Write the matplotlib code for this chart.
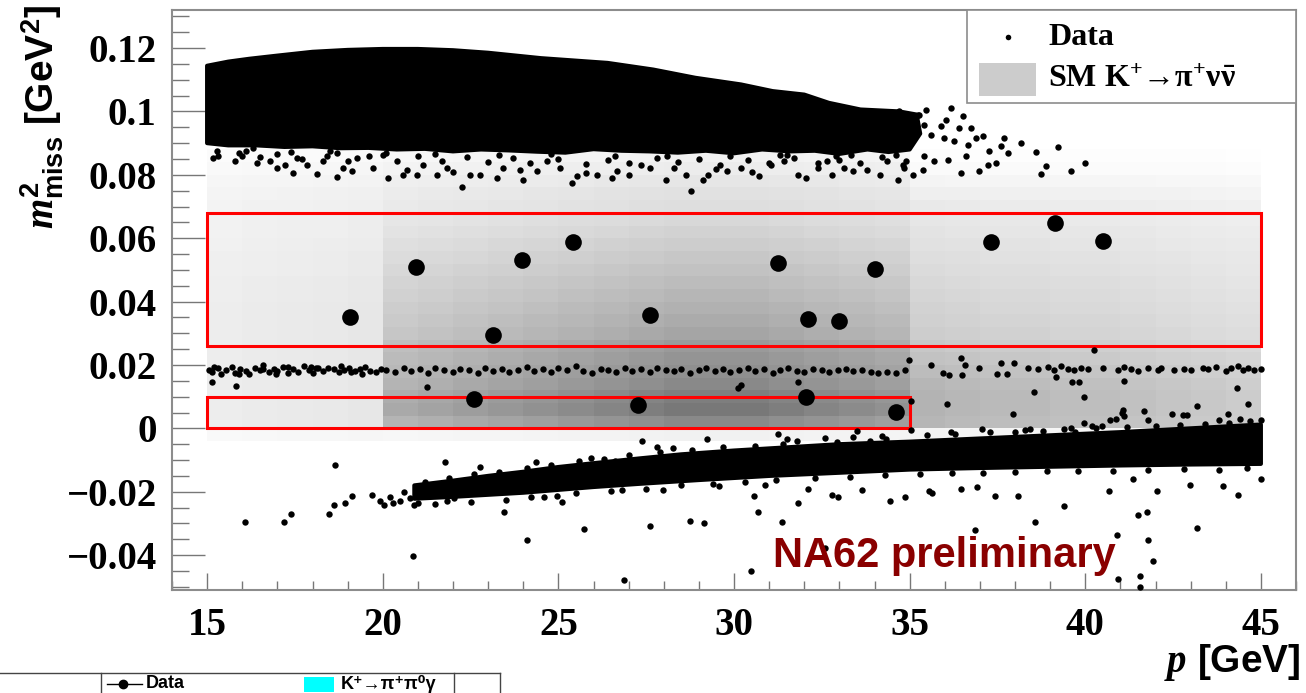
#!/usr/bin/env python
# -*- coding: utf-8 -*-
'''
NA62 - missing mass squared versus pi+ momentum: data, SM expectation
and the two signal regions
'''
import matplotlib
matplotlib.use('Agg')
import matplotlib.pyplot as plt
from matplotlib.patches import Rectangle
from matplotlib.lines import Line2D
from matplotlib.font_manager import FontProperties
import numpy as np

plt.rcParams['mathtext.fontset'] = 'custom'
plt.rcParams['mathtext.rm'] = 'Liberation Serif:bold'
plt.rcParams['mathtext.it'] = 'Liberation Serif:italic:bold'
plt.rcParams['mathtext.bf'] = 'Liberation Serif:bold'
plt.rcParams['mathtext.sf'] = 'Liberation Sans:bold'

################################################################################
# Data
################################################################################
# candidate events (big dots)
cand_p = [19.07, 20.95, 23.15, 22.61, 23.97, 25.43, 27.28, 27.62, 31.24,
          32.12, 32.04, 32.98, 34.0, 34.6, 37.31, 39.13, 40.5]
cand_m2 = [0.0351, 0.0509, 0.0294, 0.0092, 0.0531, 0.0588, 0.0073, 0.0357,
           0.0521, 0.0344, 0.0098, 0.0338, 0.0502, 0.0051, 0.0588, 0.0648,
           0.0591]

# signal regions: (p_min, p_max, m2_min, m2_max)
signal_regions = [(15, 45, 0.026, 0.068), (15, 35, 0.0, 0.01)]

# outline of the saturated K -> 3pi band (upper)
upper_core = [(15.0, 0.1144), (15.6, 0.1157), (16.2, 0.1166), (17.0, 0.1176),
              (18.0, 0.1188), (19.0, 0.1194), (20.0, 0.1197), (21.0, 0.1197),
              (22.0, 0.1193), (23.0, 0.1185), (24.5, 0.1168), (26.4, 0.1153),
              (27.7, 0.1132), (28.9, 0.1106), (30.2, 0.1085), (31.1, 0.1064),
              (32.0, 0.1053), (32.7, 0.1027), (33.6, 0.1006), (34.7, 0.1000),
              (35.2, 0.0990), (35.3, 0.0930),
              (35.0, 0.0880), (34.4, 0.0872), (33.8, 0.0880), (33.0, 0.0866),
              (32.3, 0.0876), (31.6, 0.0874), (30.8, 0.0880), (30.0, 0.0868),
              (29.2, 0.0876), (28.4, 0.0870), (27.6, 0.0874), (26.8, 0.0876),
              (26.0, 0.0881), (25.2, 0.0870), (24.4, 0.0873), (23.6, 0.0877),
              (22.8, 0.0880), (22.0, 0.0874), (21.2, 0.0882), (20.4, 0.0880),
              (19.6, 0.0885), (18.8, 0.0884), (18.0, 0.0890), (17.2, 0.0888),
              (16.4, 0.0893), (15.6, 0.0893), (15.0, 0.0900)]

# outline of the saturated K -> mu nu band (lower)
lower_core = [(20.9, -0.0180), (22.0, -0.0165), (23.0, -0.0150), (24.0, -0.0137),
              (25.0, -0.0122), (26.0, -0.0110), (27.3, -0.0095), (28.5, -0.0082),
              (30.0, -0.0070), (31.5, -0.0060), (33.0, -0.0050), (35.0, -0.0042),
              (37.0, -0.0032), (39.0, -0.0022), (41.0, -0.0012), (43.0, 0.0000),
              (45.0, 0.0012),
              (45.0, -0.0112), (43.0, -0.0114), (41.0, -0.0117), (39.0, -0.0121),
              (37.0, -0.0125), (35.0, -0.0130), (33.0, -0.0140), (31.0, -0.0150),
              (29.0, -0.0163), (27.3, -0.0175), (26.0, -0.0185), (24.0, -0.0203),
              (22.0, -0.0216), (20.9, -0.0222)]

# single data events below / right of the upper band
upper_fringe = [
    (15.17, 0.0916), (15.46, 0.0926), (15.28, 0.0875), (15.17, 0.0853), (15.80, 0.0844),
    (16.00, 0.0860), (16.31, 0.0885), (16.42, 0.0837), (16.79, 0.0916), (16.79, 0.0844),
    (16.99, 0.0822), (17.22, 0.0831), (17.45, 0.0806), (17.56, 0.0853), (17.85, 0.0831),
    (18.13, 0.0803), (18.30, 0.0844), (18.50, 0.0875), (18.70, 0.0793), (18.87, 0.0822),
    (19.13, 0.0812), (19.27, 0.0853), (19.73, 0.0822), (20.01, 0.0863), (20.16, 0.0790),
    (20.58, 0.0800), (20.98, 0.0800), (21.15, 0.0831), (21.55, 0.0800), (21.84, 0.0822),
    (22.26, 0.0762), (22.49, 0.0800), (22.78, 0.0800), (23.26, 0.0790), (23.43, 0.0822),
    (24.00, 0.0784), (24.40, 0.0812), (24.69, 0.0844), (25.06, 0.0822), (25.40, 0.0774),
    (25.54, 0.0796), (26.11, 0.0800), (26.54, 0.0790), (26.68, 0.0812), (27.34, 0.0831),
    (27.62, 0.0822), (28.05, 0.0784), (28.28, 0.0822), (28.62, 0.0800), (28.79, 0.0749),
    (29.13, 0.0784), (29.25, 0.0800), (29.81, 0.0812), (30.19, 0.0822), (30.70, 0.0796),
    (31.04, 0.0831), (31.41, 0.0844), (31.81, 0.0800), (32.04, 0.0790), (32.38, 0.0822),
    (32.66, 0.0844), (33.12, 0.0822), (33.40, 0.0812), (34.17, 0.0800), (34.66, 0.0784),
    (34.83, 0.0822), (35.11, 0.0800), (33.03, 0.0970), (33.52, 0.0989), (33.97, 0.0948),
    (34.69, 0.1002), (35.23, 0.0989), (34.17, 0.0980), (34.94, 0.0948), (33.80, 0.0894),
    (34.46, 0.0894), (32.75, 0.0907), (33.32, 0.0863), (34.37, 0.0844), (32.09, 0.0885),
    (31.52, 0.0863), (34.94, 0.0980), (35.26, 0.0989), (35.40, 0.0957), (34.83, 0.0948),
    (35.03, 0.0916), (35.60, 0.0926), (35.97, 0.0916), (36.25, 0.0907), (36.65, 0.0894),
    (36.74, 0.0948), (36.88, 0.0916), (37.25, 0.0875), (37.59, 0.0891), (37.79, 0.0869),
    (38.59, 0.0872), (39.22, 0.0888), (38.87, 0.0828), (38.73, 0.0803), (39.59, 0.0812),
    (39.99, 0.0837), (37.22, 0.0831), (37.45, 0.0837), (36.97, 0.0812), (36.45, 0.0806),
    (35.68, 0.0844), (36.08, 0.0847), (36.60, 0.0860), (35.37, 0.0815), (34.80, 0.0831),
    (35.46, 0.1005), (36.03, 0.0973), (36.40, 0.0948), (37.08, 0.0923), (36.51, 0.0986),
    (35.88, 0.0954), (36.17, 0.1011), (37.68, 0.0916), (38.16, 0.0900),
    (15.30, 0.0860), (15.90, 0.0868), (16.50, 0.0855), (17.00, 0.0865), (17.70, 0.0850),
    (18.40, 0.0860), (19.00, 0.0845), (19.60, 0.0858), (20.40, 0.0842), (21.00, 0.0858),
    (21.70, 0.0845), (22.40, 0.0855), (23.00, 0.0840), (23.70, 0.0852), (24.20, 0.0838),
    (25.00, 0.0850), (25.80, 0.0835), (26.40, 0.0848), (27.00, 0.0838), (27.80, 0.0852),
    (28.40, 0.0840), (29.00, 0.0850), (29.60, 0.0832), (30.40, 0.0848), (31.00, 0.0838),
    (31.70, 0.0852), (32.40, 0.0836), (33.00, 0.0848), (33.60, 0.0838), (34.20, 0.0855),
    (34.90, 0.0845), (35.40, 0.0860), (20.70, 0.0815), (22.00, 0.0810), (23.90, 0.0815),
    (25.80, 0.0805), (27.00, 0.0800), (29.50, 0.0818), (30.50, 0.0808), (32.80, 0.0800),
    (33.80, 0.0815), (16.10, 0.0875), (17.40, 0.0872), (18.70, 0.0868), (20.10, 0.0870),
    (21.50, 0.0866), (23.30, 0.0862), (24.80, 0.0866), (26.60, 0.0860), (28.10, 0.0858),
    (29.90, 0.0860), (31.30, 0.0862), (32.90, 0.0860), (34.60, 0.0862)]

# K -> pi pi0 band
pi0_band = [
    (15.05, 0.0185), (15.15, 0.0178), (15.30, 0.0190), (15.40, 0.0172), (15.55, 0.0183),
    (15.70, 0.0195), (15.80, 0.0176), (15.95, 0.0188), (16.10, 0.0180), (16.20, 0.0170),
    (16.35, 0.0192), (16.50, 0.0184), (16.60, 0.0199), (16.75, 0.0177), (16.90, 0.0187),
    (17.00, 0.0181), (17.15, 0.0193), (17.30, 0.0174), (17.45, 0.0186), (17.60, 0.0179),
    (17.75, 0.0196), (17.90, 0.0183), (18.00, 0.0175), (18.15, 0.0189), (18.30, 0.0181),
    (18.45, 0.0192), (18.60, 0.0186), (18.75, 0.0178), (18.90, 0.0184), (19.05, 0.0190),
    (19.20, 0.0180), (19.35, 0.0187), (19.50, 0.0194), (19.65, 0.0182), (19.80, 0.0177),
    (19.95, 0.0188), (15.20, 0.0195), (15.90, 0.0170), (16.60, 0.0186), (17.30, 0.0195),
    (18.10, 0.0190), (18.80, 0.0196), (19.40, 0.0172), (16.95, 0.0172), (19.10, 0.0178),
    (17.95, 0.0195),
    (20.10, 0.0184), (20.35, 0.0178), (20.60, 0.0190), (20.80, 0.0181), (21.05, 0.0186),
    (21.30, 0.0175), (21.50, 0.0192), (21.75, 0.0183), (22.00, 0.0179), (22.20, 0.0188),
    (22.45, 0.0184), (22.70, 0.0176), (22.90, 0.0191), (23.15, 0.0182), (23.40, 0.0187),
    (23.60, 0.0178), (23.85, 0.0185), (24.10, 0.0193), (24.30, 0.0180), (24.55, 0.0186),
    (24.80, 0.0177), (25.00, 0.0189), (25.25, 0.0183), (25.50, 0.0196), (25.70, 0.0181),
    (25.95, 0.0175), (26.20, 0.0187), (26.40, 0.0184), (26.65, 0.0179), (26.90, 0.0190),
    (27.10, 0.0182), (27.35, 0.0186), (27.60, 0.0177), (27.80, 0.0192), (28.05, 0.0184),
    (28.30, 0.0180), (28.50, 0.0188), (28.75, 0.0176), (29.00, 0.0185), (29.20, 0.0191),
    (29.45, 0.0181), (29.70, 0.0187), (29.90, 0.0178), (30.15, 0.0184), (30.40, 0.0189),
    (30.60, 0.0180), (30.85, 0.0186), (31.10, 0.0175), (31.30, 0.0183), (31.55, 0.0190),
    (31.80, 0.0182), (32.00, 0.0179), (32.25, 0.0186), (32.50, 0.0184), (32.70, 0.0177),
    (32.95, 0.0183), (33.20, 0.0188), (33.40, 0.0180), (33.65, 0.0185), (33.90, 0.0178),
    (34.10, 0.0174), (34.35, 0.0179), (34.60, 0.0176), (34.88, 0.0183), (34.97, 0.0215),
    (35.60, 0.0199), (35.94, 0.0174), (36.12, 0.0167), (36.45, 0.0221), (36.57, 0.0199),
    (36.97, 0.0190), (37.48, 0.0171), (37.59, 0.0205), (37.76, 0.0171), (37.96, 0.0205),
    (38.36, 0.0190), (38.65, 0.0186), (38.93, 0.0193), (39.10, 0.0184), (39.30, 0.0196),
    (39.50, 0.0188), (39.67, 0.0183), (39.87, 0.0192), (40.07, 0.0186), (40.24, 0.0246),
    (40.50, 0.0190), (40.93, 0.0184), (41.10, 0.0193), (41.30, 0.0187), (41.50, 0.0181),
    (41.78, 0.0190), (42.07, 0.0185), (42.15, 0.0192), (42.52, 0.0183), (42.80, 0.0188),
    (43.00, 0.0184), (43.35, 0.0190), (43.49, 0.0186), (43.72, 0.0193), (44.00, 0.0182),
    (44.15, 0.0189), (44.35, 0.0196), (44.49, 0.0185), (44.63, 0.0191), (44.80, 0.0184),
    (45.00, 0.0187)]

# isolated events between the pi0 band and the lower band
mid_scatter = [
    (15.14, 0.0145), (15.83, 0.0133), (21.27, 0.0130), (30.10, 0.0126), (30.20, 0.0136),
    (31.81, 0.0145), (35.03, 0.0085), (36.05, 0.0076), (36.48, 0.0167), (39.17, 0.0161),
    (39.62, 0.0145), (41.10, 0.0149), (38.53, 0.0114), (44.32, 0.0126), (39.96, 0.0098),
    (44.62, 0.0076), (43.17, 0.0070), (41.67, 0.0054), (41.07, 0.0057), (41.10, 0.0038),
    (42.46, 0.0044), (42.78, 0.0041), (42.90, 0.0041), (44.05, 0.0044), (37.94, 0.0044),
    (40.70, 0.0025), (40.87, 0.0028), (41.04, 0.0047), (40.19, 0.0006), (40.47, 0.0006),
    (39.96, 0.0016), (41.79, 0.0025), (39.83, 0.0145), (37.05, -0.0003), (36.17, -0.0013),
    (38.28, -0.0006), (38.42, -0.0003), (39.39, -0.0003), (39.70, -0.0013), (35.05, -0.0006),
    (33.50, -0.0009), (31.52, -0.0032), (32.93, -0.0044), (33.87, -0.0041), (34.33, -0.0032),
    (31.24, -0.0019)]

# single data events around the lower band
lower_fringe = [
    (16.08, -0.0297), (17.19, -0.0297), (17.39, -0.0269), (18.48, -0.0269), (18.62, -0.0243),
    (18.93, -0.0234), (19.13, -0.0212), (18.65, -0.0117), (19.70, -0.0209), (19.93, -0.0228),
    (20.04, -0.0243), (20.30, -0.0237), (20.50, -0.0228), (20.78, -0.0221), (20.90, -0.0243),
    (20.87, -0.0404), (21.78, -0.0107), (21.84, -0.0228), (22.04, -0.0221), (22.78, -0.0123),
    (23.46, -0.0265), (24.12, -0.0351), (24.37, -0.0107), (24.23, -0.0215), (24.97, -0.0212),
    (25.11, -0.0231), (25.74, -0.0319), (25.94, -0.0092), (26.60, -0.0104), (26.80, -0.0196),
    (26.88, -0.0477), (27.37, -0.0041), (27.62, -0.0307), (27.82, -0.0060), (27.99, -0.0193),
    (28.25, -0.0063), (28.76, -0.0291), (29.16, -0.0300), (29.22, -0.0032), (29.56, -0.0183),
    (30.47, -0.0449), (30.58, -0.0212), (30.67, -0.0265), (30.87, -0.0180), (32.12, -0.0190),
    (31.81, -0.0237), (32.78, -0.0209), (32.95, -0.0215), (33.63, -0.0193), (34.45, -0.0228),
    (34.88, -0.0218), (35.54, -0.0199), (35.63, -0.0205), (36.45, -0.0190), (36.91, -0.0186),
    (37.42, -0.0212), (38.08, -0.0212), (38.56, -0.0297), (39.39, -0.0246), (40.67, -0.0199),
    (41.35, -0.0161), (41.49, -0.0272), (41.75, -0.0265), (42.04, -0.0199), (42.98, -0.0180),
    (43.17, -0.0313), (43.92, -0.0183), (44.34, -0.0209), (45.00, -0.0161), (41.79, -0.0351),
    (41.93, -0.0417), (40.90, -0.0338), (40.93, -0.0474), (41.55, -0.0465), (41.55, -0.0499),
    (36.85, -0.0322), (31.38, -0.0294), (32.58, -0.0379),
    (31.80, -0.0040), (32.60, -0.0030), (33.40, -0.0028), (34.20, -0.0025), (35.50, -0.0022),
    (36.30, -0.0018), (37.30, -0.0012), (38.00, -0.0010), (38.80, -0.0008), (39.60, 0.0000),
    (40.30, 0.0002), (41.20, 0.0004), (42.00, 0.0008), (42.70, 0.0012), (43.40, 0.0014),
    (44.10, 0.0018), (44.70, 0.0022), (45.00, 0.0026), (44.40, 0.0030), (43.80, 0.0025),
    (21.50, -0.0240), (22.50, -0.0232), (23.50, -0.0225), (24.60, -0.0218), (25.50, -0.0205),
    (26.50, -0.0198), (27.50, -0.0190), (28.50, -0.0180), (29.40, -0.0175), (30.30, -0.0168),
    (31.20, -0.0162), (32.30, -0.0158), (33.30, -0.0152), (34.30, -0.0148), (35.30, -0.0145),
    (36.20, -0.0140), (37.10, -0.0142), (38.00, -0.0138), (38.90, -0.0135), (39.80, -0.0133),
    (40.80, -0.0136), (41.80, -0.0130), (42.80, -0.0128), (43.80, -0.0130), (44.60, -0.0125),
    (20.20, -0.0215), (20.60, -0.0200), (21.30, -0.0185), (21.00, -0.0235),
    (21.20, -0.0170), (21.90, -0.0158), (22.60, -0.0145), (23.30, -0.0138), (24.10, -0.0125),
    (24.80, -0.0115), (25.60, -0.0103), (26.30, -0.0096), (27.00, -0.0085), (27.90, -0.0075),
    (28.80, -0.0068), (29.70, -0.0060), (30.60, -0.0055), (31.40, -0.0050)]

# SM K+ -> pi+ nu nubar expectation: 1 GeV x 0.004 GeV^2 cells,
# darkness = column weight x row profile of its momentum range
hist_p_weight = [0.9, 1.0, 1.05, 1.1, 1.2,
                 0.7, 0.75, 0.8, 0.85, 0.9, 0.95, 1.0, 1.05, 1.1, 1.1, 1.1, 1.05, 1.0, 0.95, 0.9,
                 1.1, 1.05, 1.0, 1.0, 0.95, 0.95, 0.9, 0.85, 0.8, 0.75]
prof_15_20 = [0.03, 0.08, 0.08, 0.08, 0.08, 0.08, 0.08, 0.08, 0.08, 0.08, 0.08, 0.075,
              0.075, 0.07, 0.07, 0.065, 0.06, 0.06, 0.055, 0.05, 0.04, 0.03, 0.02]
prof_20_35 = [0.05, 0.42, 0.48, 0.46, 0.42, 0.40, 0.38, 0.36, 0.32, 0.30, 0.28, 0.26,
              0.24, 0.22, 0.20, 0.18, 0.16, 0.14, 0.12, 0.11, 0.09, 0.07, 0.05]
prof_35_45 = [0.04, 0.26, 0.27, 0.27, 0.26, 0.24, 0.22, 0.20, 0.18, 0.17, 0.16, 0.15,
              0.14, 0.13, 0.12, 0.11, 0.10, 0.09, 0.08, 0.06, 0.04, 0.02, 0.01]

x_ticks = [15, 20, 25, 30, 35, 40, 45]
y_ticks = [-0.04, -0.02, 0.0, 0.02, 0.04, 0.06, 0.08, 0.1, 0.12]
y_tick_labels = ['\u22120.04', '\u22120.02', '0', '0.02', '0.04', '0.06', '0.08',
                 '0.1', '0.12']

################################################################################
# Figure and axes
################################################################################
W, H = 1306, 693
fig = plt.figure(figsize=(W / 100, H / 100), dpi=100)
ax = fig.add_axes([172 / W, 103 / H, 1124 / W, 580 / H])
ax.set_xlim(14, 46)
ax.set_ylim(-0.051, 0.132)

# SM expectation histogram
p_edges = np.arange(15, 46, 1.0)
m2_edges = np.linspace(-0.004, 0.088, 24)
darkness = np.zeros((len(m2_edges) - 1, len(p_edges) - 1))
for i, w in enumerate(hist_p_weight):
    centre = p_edges[i] + 0.5
    if centre < 20:
        prof = prof_15_20
    elif centre < 35:
        prof = prof_20_35
    else:
        prof = prof_35_45
    darkness[:, i] = w * np.array(prof)
ax.pcolormesh(p_edges, m2_edges, darkness, cmap='gray_r', vmin=0, vmax=1,
              shading='flat', zorder=1)

# signal regions
for p0, p1, m0, m1 in signal_regions:
    ax.add_patch(Rectangle((p0, m0), p1 - p0, m1 - m0, fill=False,
                           edgecolor='#ff0000', lw=2.2, zorder=2))

# saturated bands
for band in (upper_core, lower_core):
    ax.fill([b[0] for b in band], [b[1] for b in band], facecolor='black',
            edgecolor='black', lw=3, joinstyle='round', zorder=3)

# single events
for pts in (upper_fringe, pi0_band, mid_scatter, lower_fringe):
    ax.plot([q[0] for q in pts], [q[1] for q in pts], 'o', color='black',
            ms=4.6, mew=0, zorder=3)

# candidates
ax.plot(cand_p, cand_m2, 'o', color='black', ms=12, mew=0, zorder=4)

################################################################################
# Axes cosmetics (ROOT look)
################################################################################
tick_font = FontProperties(family='Liberation Serif', weight='bold', size=28)
ax.set_xticks(x_ticks)
ax.set_xticks(np.arange(14, 47, 1), minor=True)
ax.set_xticklabels([str(t) for t in x_ticks], fontproperties=tick_font)
ax.set_yticks(y_ticks)
ax.set_yticks(np.arange(-0.05, 0.1301, 0.005), minor=True)
ax.set_yticklabels(y_tick_labels, fontproperties=tick_font)

ax.tick_params(axis='x', which='major', direction='in', length=12.5, width=1,
               color='#777777', pad=12)
ax.tick_params(axis='x', which='minor', direction='in', length=6.3, width=1,
               color='#777777')
ax.tick_params(axis='y', which='major', direction='in', length=23.8, width=1,
               color='#777777', pad=11)
ax.tick_params(axis='y', which='minor', direction='in', length=12.2, width=1,
               color='#777777')
for s in ax.spines.values():
    s.set_color('#8c8c8c')
    s.set_linewidth(1.5)

fig.text(42 / W, 1 - 5 / H,
         r'$\mathit{m}^{\mathsf{2}}_{\mathsf{miss}}$ [GeV$^{\mathsf{2}}$]',
         rotation=90, ha='center', va='top', fontsize=28,
         family='Liberation Sans', weight='bold')
fig.text(1300 / W, 21 / H, r'$\mathit{p}$ [GeV]', ha='right', va='baseline',
         fontsize=28, family='Liberation Sans', weight='bold')

ax.text(31.1, -0.0436, 'NA62 preliminary', color='#8a0000', fontsize=30,
        family='Liberation Sans', weight='bold', va='baseline', zorder=6)

################################################################################
# Legend (drawn by hand, ROOT TLegend style)
################################################################################
ax.add_patch(Rectangle((0.7073, 0.8397), 0.2927, 0.1603, transform=ax.transAxes,
                       facecolor='white', edgecolor='#8c8c8c', lw=1.2,
                       zorder=7, clip_on=False))
ax.plot([0.7438], [0.9534], 'o', color='black', ms=4, mew=0,
        transform=ax.transAxes, zorder=8, clip_on=False)
ax.add_patch(Rectangle((0.718, 0.8517), 0.0507, 0.0569, transform=ax.transAxes,
                       facecolor='#cccccc', edgecolor='none', zorder=8))
ax.text(0.7794, 0.9397, 'Data', transform=ax.transAxes, fontsize=23,
        family='Liberation Serif', weight='bold', va='baseline', zorder=8)
ax.text(0.7794, 0.8672,
        'SM K$^{+}$\u2192$\\mathrm{\\pi}^{+}\\mathrm{\\nu}\\bar{\\mathrm{\\nu}}$',
        transform=ax.transAxes, fontsize=23, family='Liberation Serif',
        weight='bold', va='baseline', zorder=8)

# cut-off legend of the next plot at the bottom left
edge = dict(color='#444444', lw=1, transform=fig.transFigure)
fig.add_artist(Line2D([0, 500 / W], [20 / H, 20 / H], **edge))
for xv in (101, 454, 500):
    fig.add_artist(Line2D([xv / W, xv / W], [0, 20 / H], **edge))
fig.add_artist(Line2D([107 / W, 142 / W], [9 / H, 9 / H], color='black', lw=1,
                      transform=fig.transFigure))
fig.add_artist(Line2D([123 / W], [9 / H], marker='o', ms=6, color='black',
                      transform=fig.transFigure))
fig.add_artist(Rectangle((304 / W, 1 / H), 30 / W, 15 / H, facecolor='cyan',
                         edgecolor='none', transform=fig.transFigure))
fig.text(146 / W, 9 / H, 'Data', fontsize=13, family='Liberation Sans',
         weight='bold', va='center')
fig.text(341 / W, 9 / H, 'K\u207a\u2192\u03c0\u207a\u03c0\u2070\u03b3', fontsize=13,
         family=['Liberation Sans', 'DejaVu Sans'], weight='bold', va='center')

fig.savefig('out.png', dpi=100)
plt.close(fig)
